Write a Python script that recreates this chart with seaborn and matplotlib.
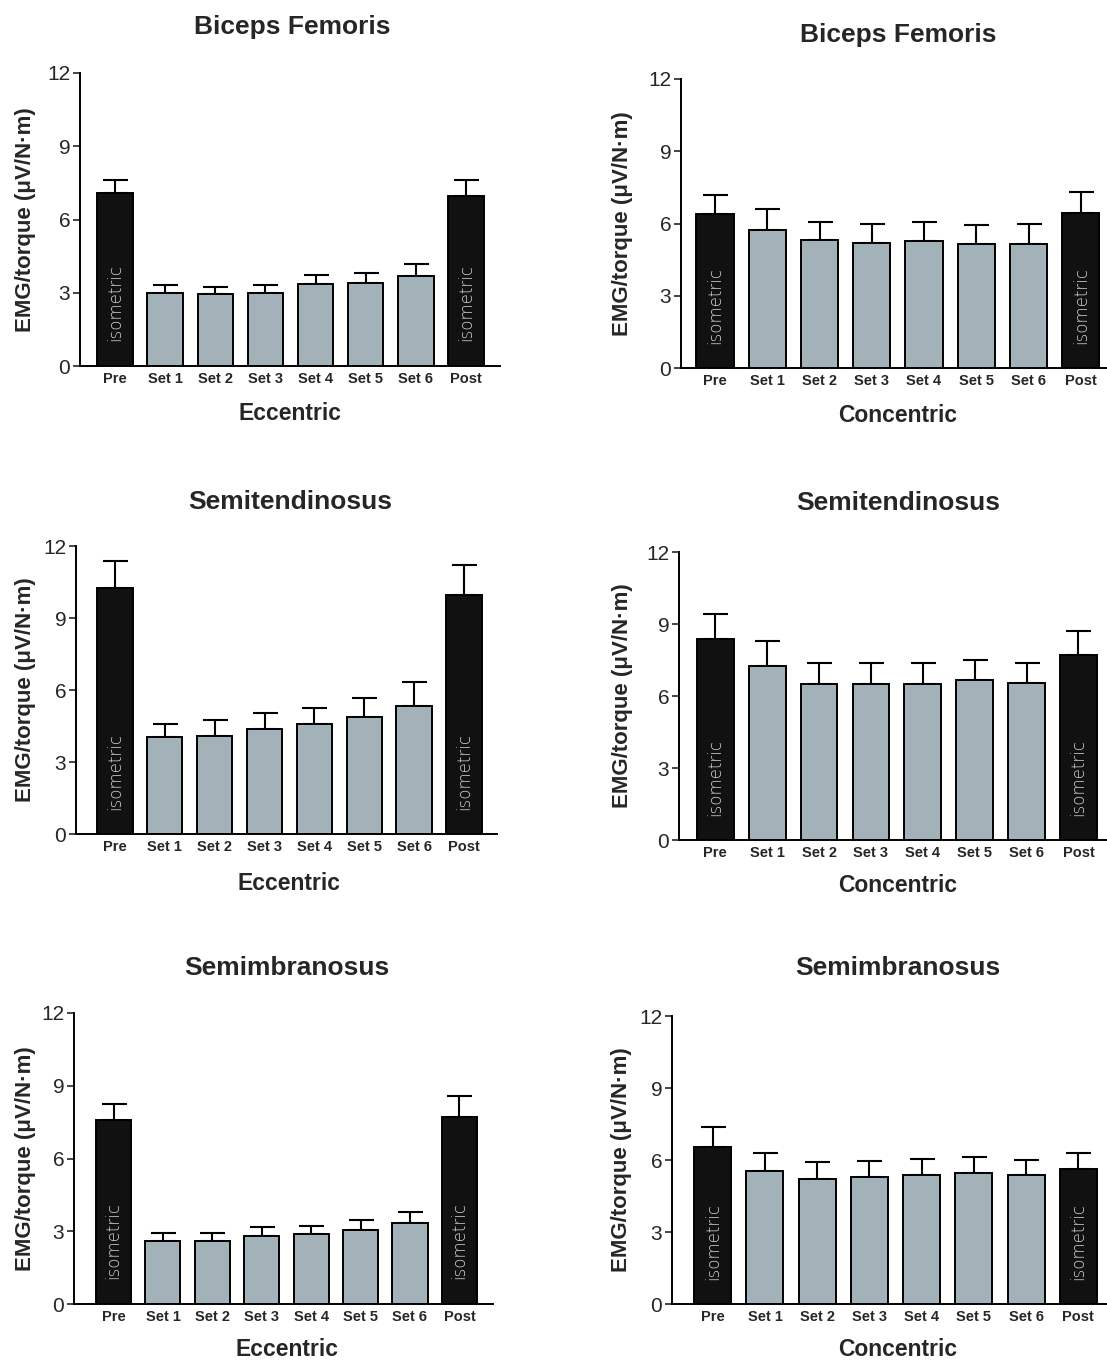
import matplotlib
matplotlib.use("Agg")
import matplotlib.pyplot as plt
import seaborn as sns
import pandas as pd
import numpy as np

sns.set_style("white")
plt.rcParams['font.family'] = ['Liberation Sans', 'DejaVu Sans']

categories = ["Pre", "Set 1", "Set 2", "Set 3", "Set 4", "Set 5", "Set 6", "Post"]

bf_ecc_mean = [7.1, 3.0, 2.95, 3.0, 3.35, 3.4, 3.7, 6.95]
bf_ecc_se = [0.5, 0.3, 0.27, 0.3, 0.38, 0.4, 0.48, 0.65]
bf_con_mean = [6.4, 5.75, 5.3, 5.2, 5.27, 5.13, 5.16, 6.45]
bf_con_se = [0.77, 0.85, 0.75, 0.8, 0.8, 0.8, 0.8, 0.85]
st_ecc_mean = [10.25, 4.05, 4.1, 4.36, 4.57, 4.86, 5.35, 9.96]
st_ecc_se = [1.13, 0.53, 0.65, 0.7, 0.68, 0.8, 1.0, 1.23]
st_con_mean = [8.37, 7.24, 6.48, 6.48, 6.5, 6.66, 6.53, 7.69]
st_con_se = [1.05, 1.04, 0.89, 0.89, 0.86, 0.86, 0.86, 1.02]
sm_ecc_mean = [7.57, 2.61, 2.6, 2.79, 2.88, 3.04, 3.32, 7.71]
sm_ecc_se = [0.68, 0.32, 0.33, 0.37, 0.35, 0.43, 0.49, 0.85]
sm_con_mean = [6.56, 5.56, 5.22, 5.29, 5.38, 5.47, 5.36, 5.61]
sm_con_se = [0.8, 0.73, 0.7, 0.68, 0.65, 0.64, 0.65, 0.68]

yticks = [0, 3, 6, 9, 12]
ylabel = "EMG/torque (\u03bcV/N\u00b7m)"

panels = [
    ("Biceps Femoris", "Eccentric", bf_ecc_mean, bf_ecc_se),
    ("Biceps Femoris", "Concentric", bf_con_mean, bf_con_se),
    ("Semitendinosus", "Eccentric", st_ecc_mean, st_ecc_se),
    ("Semitendinosus", "Concentric", st_con_mean, st_con_se),
    ("Semimbranosus", "Eccentric", sm_ecc_mean, sm_ecc_se),
    ("Semimbranosus", "Concentric", sm_con_mean, sm_con_se),
]

W, H = 1107, 1362
# pixel boxes: (left, right, top(y=12), bottom(y=0), xlim_left, xlim_right)
boxes = [
    (80, 500, 73, 366, -0.7, 7.68),
    (681, 1107, 79, 368, -0.65, 7.5),
    (76, 497, 546, 834, -0.78, 7.66),
    (679, 1107, 552, 840, -0.7, 7.55),
    (74, 493, 1013, 1304, -0.8, 7.68),
    (672, 1107, 1016, 1304, -0.78, 7.55),
]
ylabel_x = [36, 633, 36, 633, 36, 632]
title_pos = [(292, 27), (898, 35), (290, 502), (898, 503), (287, 968), (898, 968)]
xlabel_pos = [(290, 414), (898, 416), (289, 883), (898, 885), (287, 1350), (898, 1350)]

iso_color = "#111111"
set_color = "#a0b3bb"
palette = {c: (iso_color if c in ("Pre", "Post") else set_color) for c in categories}

fig = plt.figure(figsize=(W / 100, H / 100), dpi=100)
fig.patch.set_facecolor("white")

for i, (title, mode, means, ses) in enumerate(panels):
    l, r, t, b, xl, xr = boxes[i]
    ax = fig.add_axes([l / W, 1 - b / H, (r - l) / W, (b - t) / H])
    df = pd.DataFrame({"cond": categories, "val": means})
    sns.barplot(data=df, x="cond", y="val", hue="cond", palette=palette,
                order=categories, hue_order=categories, legend=False,
                errorbar=None, width=0.71, edgecolor="black", linewidth=1.4,
                ax=ax, zorder=3)
    xs = np.arange(len(categories))
    ax.errorbar(xs, means, yerr=[np.zeros(len(ses)), ses], fmt="none",
                ecolor="black", elinewidth=1.5, capsize=9, capthick=1.5, zorder=2)
    ax.set_xlim(xl, xr)
    ax.set_ylim(0, 12)
    ax.set_yticks(yticks)
    ax.set_yticklabels([str(v) for v in yticks], fontsize=15)
    ax.tick_params(axis="y", direction="out", length=5, width=1.2, pad=2, left=True)
    ax.tick_params(axis="x", length=0, pad=4)
    for lab in ax.get_xticklabels():
        lab.set_fontweight("bold")
        lab.set_fontsize(10.5)
    ax.set_xlabel("")
    ax.set_ylabel(ylabel, fontsize=16, fontweight="bold")
    ax.yaxis.set_label_coords((ylabel_x[i] - l) / (r - l), 0.5)
    sns.despine(ax=ax)
    for s in ("left", "bottom"):
        ax.spines[s].set_linewidth(1.4)
        ax.spines[s].set_color("black")
    ax.patch.set_alpha(0)
    for xi in (0, len(categories) - 1):
        ax.text(xi, 2.6, "isometric", rotation=90, ha="center", va="center",
                color="#d4d4d4", fontsize=12, family="DejaVu Sans",
                fontweight="light", zorder=5)
    tx, ty = title_pos[i]
    fig.text(tx / W, 1 - ty / H, title, ha="center", va="center",
             fontsize=19, fontweight="bold")
    lx, ly = xlabel_pos[i]
    fig.text(lx / W, 1 - ly / H, mode, ha="center", va="center",
             fontsize=16.5, fontweight="bold")

fig.savefig("out.png", dpi=100, facecolor="white")
